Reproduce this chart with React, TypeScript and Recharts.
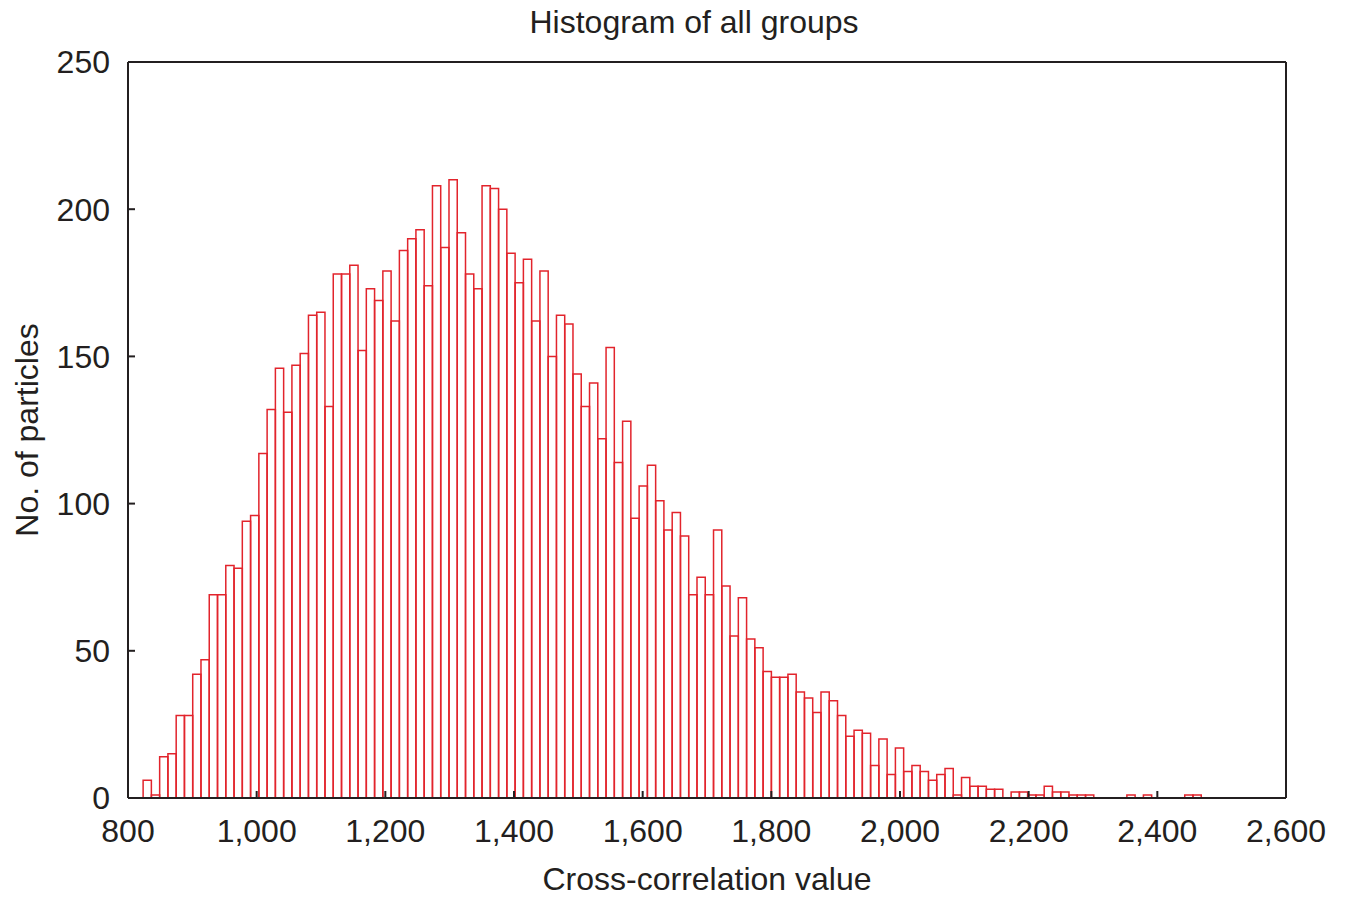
import React from 'react';
import { BarChart, Bar, XAxis, YAxis, ReferenceLine } from 'recharts';

// Histogram definition: first bin edge, bin width and the count in each bin
const BIN_START = 823.5;
const BIN_WIDTH = 12.85;
const counts: number[] = [
  6, 1, 14, 15, 28, 28, 42, 47, 69, 69,
  79, 78, 94, 96, 117, 132, 146, 131, 147, 151,
  164, 165, 133, 178, 178, 181, 152, 173, 169, 179,
  162, 186, 190, 193, 174, 208, 187, 210, 192, 178,
  173, 208, 207, 200, 185, 175, 183, 162, 179, 150,
  164, 161, 144, 133, 141, 122, 153, 114, 128, 95,
  106, 113, 101, 91, 97, 89, 69, 75, 69, 91,
  72, 55, 68, 54, 51, 43, 41, 41, 42, 36,
  34, 29, 36, 33, 28, 21, 23, 22, 11, 20,
  8, 17, 9, 11, 9, 6, 8, 10, 1, 7,
  4, 4, 3, 3, 0, 2, 2, 1, 1, 4,
  2, 2, 1, 1, 1, 0, 0, 0, 0, 1,
  0, 1, 0, 0, 0, 0, 1, 1,
];

const xTicks = [800, 1000, 1200, 1400, 1600, 1800, 2000, 2200, 2400, 2600];
const yTicks = [0, 50, 100, 150, 200, 250];

const TITLE = 'Histogram of all groups';
const X_LABEL = 'Cross-correlation value';
const Y_LABEL = 'No. of particles';

const data = counts.map((c, i) => ({ x: BIN_START + BIN_WIDTH * (i + 0.5), count: c }));

const INK = '#231f20';
const RED = '#e2242c';
const FONT = '"Liberation Sans", Arial, Helvetica, sans-serif';

const fmt = (v: number) => v.toLocaleString('en-US');

export default function App() {
  return (
    <div style={{ position: 'absolute', left: 0, top: 0, width: 1348, height: 899, background: '#fff' }}>
      <BarChart
        width={1348}
        height={899}
        data={data}
        margin={{ top: 61, right: 61, left: 0, bottom: 0 }}
        barCategoryGap={0}
        barGap={0}
      >
        <XAxis
          type="number"
          dataKey="x"
          domain={[800, 2600]}
          allowDataOverflow
          ticks={xTicks}
          interval={0}
          tickFormatter={fmt}
          height={101}
          tickSize={-7}
          tickMargin={28}
          axisLine={{ stroke: INK, strokeWidth: 2 }}
          tickLine={{ stroke: INK, strokeWidth: 2 }}
          tick={{ fill: INK, fontSize: 32, fontFamily: FONT }}
          label={{ value: X_LABEL, position: 'insideBottom', offset: 9, fill: INK, fontSize: 32, fontFamily: FONT }}
        />
        <XAxis
          xAxisId="top"
          orientation="top"
          type="number"
          dataKey="x"
          domain={[800, 2600]}
          allowDataOverflow
          ticks={xTicks}
          interval={0}
          height={1}
          tickSize={-7}
          tick={false}
          axisLine={{ stroke: INK, strokeWidth: 2 }}
          tickLine={{ stroke: INK, strokeWidth: 2 }}
          label={{ value: TITLE, position: 'top', offset: 28, dx: -13, fill: INK, fontSize: 32, fontFamily: FONT }}
        />
        <YAxis
          type="number"
          domain={[0, 250]}
          allowDataOverflow
          ticks={yTicks}
          interval={0}
          width={128}
          tickSize={-7}
          tickMargin={25}
          axisLine={{ stroke: INK, strokeWidth: 2 }}
          tickLine={{ stroke: INK, strokeWidth: 2 }}
          tick={{ fill: INK, fontSize: 32, fontFamily: FONT }}
          label={{
            value: Y_LABEL,
            angle: -90,
            position: 'insideLeft',
            offset: 27,
            fill: INK,
            fontSize: 32,
            fontFamily: FONT,
            style: { textAnchor: 'middle' },
          }}
        />
        <YAxis
          yAxisId="right"
          orientation="right"
          type="number"
          domain={[0, 250]}
          allowDataOverflow
          ticks={yTicks}
          interval={0}
          width={1}
          tickSize={-7}
          tick={false}
          axisLine={{ stroke: INK, strokeWidth: 2 }}
          tickLine={{ stroke: INK, strokeWidth: 2 }}
        />
        <Bar
          dataKey="count"
          fill="none"
          stroke={RED}
          strokeWidth={1.5}
          barSize={8.25}
          isAnimationActive={false}
        />
        <ReferenceLine
          segment={[
            { x: BIN_START, y: 0 },
            { x: BIN_START + BIN_WIDTH * counts.length, y: 0 },
          ]}
          stroke={RED}
          strokeWidth={2}
        />
      </BarChart>
    </div>
  );
}
